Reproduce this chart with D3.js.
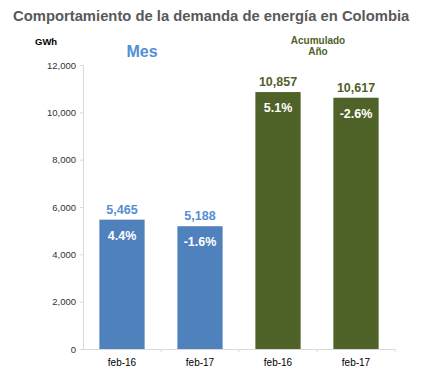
<!DOCTYPE html>
<html>
<head>
<meta charset="utf-8">
<script src="https://cdn.jsdelivr.net/npm/d3@7"></script>
<style>
  body { margin: 0; background: #fff; }
  text { font-family: "Liberation Sans", Arial, sans-serif; }
</style>
</head>
<body>
<div id="wrapper"></div>
<script>
// categories and values
const categories = ["m16", "m17", "a16", "a17"];
const tickLabels = ["feb-16", "feb-17", "feb-16", "feb-17"];
const values = [5465, 5188, 10857, 10617];
const changes = ["4.4%", "-1.6%", "5.1%", "-2.6%"];
const groups = ["mes", "mes", "acum", "acum"];
const yTicks = [0, 2000, 4000, 6000, 8000, 10000, 12000];

const width = 447, height = 376;
const margin = {top: 65, left: 83, bottom: 27, right: 52};

const colors = {mes: "#4f81bd", acum: "#4f6228"};
const labelColors = {mes: "#558ed5", acum: "#4f6228"};

const svg = d3.select("#wrapper").append("svg")
    .attr("width", width)
    .attr("height", height);

const x = d3.scaleBand()
    .domain(categories)
    .range([margin.left, width - margin.right])
    .paddingInner(0.42)
    .paddingOuter(0.21);

const y = d3.scaleLinear()
    .domain([0, 12000])
    .range([height - margin.bottom, margin.top]);

//title
svg.append("text")
    .attr("x", 13)
    .attr("y", 21)
    .attr("font-size", 14.8)
    .attr("font-weight", "bold")
    .attr("fill", "#595959")
    .text("Comportamiento de la demanda de energía en Colombia");

svg.append("text")
    .attr("x", 35)
    .attr("y", 45)
    .attr("font-size", 9.5)
    .attr("font-weight", "bold")
    .attr("fill", "#000")
    .text("GWh");

svg.append("text")
    .attr("x", 142)
    .attr("y", 57)
    .attr("text-anchor", "middle")
    .attr("font-size", 16)
    .attr("font-weight", "bold")
    .attr("fill", "#558ed5")
    .text("Mes");

svg.append("text")
    .attr("x", 318)
    .attr("y", 44)
    .attr("text-anchor", "middle")
    .attr("font-size", 10)
    .attr("font-weight", "bold")
    .attr("fill", "#4f6228")
    .selectAll("tspan")
    .data(["Acumulado", "Año"])
    .join("tspan")
    .attr("x", 318)
    .attr("dy", (d, i) => i ? 11 : 0)
    .text(d => d);

// y axis
const yAxis = svg.append("g")
    .attr("transform", `translate(${margin.left},0)`)
    .call(d3.axisLeft(y).tickValues(yTicks).tickFormat(d3.format(",")).tickSize(3).tickPadding(4));
yAxis.select(".domain").attr("stroke", "#d9d9d9");
yAxis.selectAll(".tick line").attr("stroke", "#d9d9d9");
yAxis.selectAll("text").attr("font-size", 9.5).attr("fill", "#333").style("font-family", "Liberation Sans, Arial, sans-serif");

// x axis
const xAxis = svg.append("g")
    .attr("transform", `translate(0,${y(0)})`)
    .call(d3.axisBottom(x).tickFormat((d, i) => tickLabels[i]).tickSize(0).tickPadding(10));
xAxis.select(".domain").attr("stroke", "#d9d9d9");
xAxis.selectAll("text").attr("font-size", 10).attr("fill", "#000").style("font-family", "Liberation Sans, Arial, sans-serif");
// little separators between categories
const step = x.step();
xAxis.selectAll(".sep")
    .data(categories.slice(1).concat(["end"]))
    .join("line")
    .attr("x1", (d, i) => margin.left + step * (i + 1))
    .attr("x2", (d, i) => margin.left + step * (i + 1))
    .attr("y1", 0)
    .attr("y2", 3)
    .attr("stroke", "#d9d9d9");

const data = categories.map((c, i) => ({c, v: values[i], ch: changes[i], g: groups[i]}));

svg.append("g").selectAll("rect")
    .data(data)
    .join("rect")
    .attr("x", d => x(d.c))
    .attr("y", d => y(d.v))
    .attr("width", x.bandwidth())
    .attr("height", d => y(0) - y(d.v))
    .attr("fill", d => colors[d.g]);

//value labels on top
svg.append("g").selectAll("text")
    .data(data)
    .join("text")
    .attr("x", d => x(d.c) + x.bandwidth() / 2)
    .attr("y", d => y(d.v) - 6)
    .attr("text-anchor", "middle")
    .attr("font-size", 12.5)
    .attr("font-weight", "bold")
    .attr("fill", d => labelColors[d.g])
    .text(d => d3.format(",")(d.v));

//percent labels inside
svg.append("g").selectAll("text")
    .data(data)
    .join("text")
    .attr("x", d => x(d.c) + x.bandwidth() / 2)
    .attr("y", d => y(d.v) + 20)
    .attr("text-anchor", "middle")
    .attr("font-size", 12.5)
    .attr("font-weight", "bold")
    .attr("fill", "#fff")
    .text(d => d.ch);
</script>
</body>
</html>
